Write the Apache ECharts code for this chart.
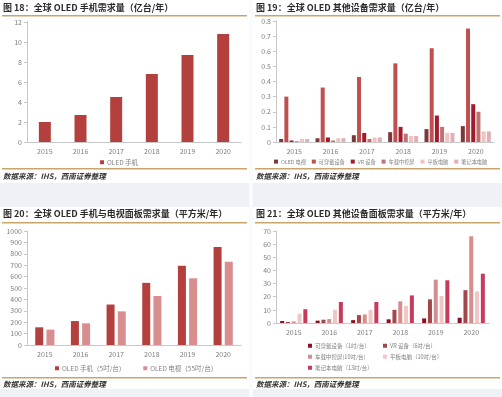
<!DOCTYPE html>
<html>
<head>
<meta charset="utf-8">
<script src="https://cdn.jsdelivr.net/npm/echarts@6/dist/echarts.min.js"></script>
<style>
  html, body { margin: 0; padding: 0; background: #ffffff; }
  #main { width: 502px; height: 397px; }
</style>
</head>
<body>
<div id="main"></div>
<script>
// 数据
var years = ['2015', '2016', '2017', '2018', '2019', '2020'];

// 图18 OLED 手机需求量（亿台/年）
var phoneUnits = [2.0, 2.7, 4.5, 6.8, 8.7, 10.8];

// 图19 其他设备需求量（亿台/年）
var tvUnits = [0.02, 0.025, 0.045, 0.065, 0.085, 0.105];
var wearUnits = [0.30, 0.36, 0.43, 0.52, 0.62, 0.75];
var vrUnits = [0.01, 0.03, 0.06, 0.10, 0.175, 0.25];
var carUnits = [0.005, 0.01, 0.02, 0.055, 0.10, 0.20];
var padUnits = [0.02, 0.025, 0.03, 0.04, 0.06, 0.07];
var nbUnits = [0.02, 0.025, 0.03, 0.04, 0.06, 0.07];

// 图20 手机与电视面板需求量（平方米/年）
var phoneArea = [155, 210, 355, 545, 695, 860];
var tvArea = [135, 190, 295, 430, 585, 730];

// 图21 其他设备面板需求量（平方米/年）
var wearArea = [1.5, 1.8, 2.2, 2.8, 3.5, 4.0];
var vrArea = [0.8, 2.5, 6.0, 10.0, 18.0, 25.0];
var carArea = [1.2, 3.0, 6.5, 16.5, 33.0, 66.0];
var padArea = [7.0, 10.0, 10.0, 13.0, 20.5, 24.0];
var nbArea = [10.5, 16.0, 16.0, 21.0, 32.5, 37.5];

var titles = [
  '图 18：全球 OLED 手机需求量（亿台/年）',
  '图 19：全球 OLED 其他设备需求量（亿台/年）',
  '图 20：全球 OLED 手机与电视面板需求量（平方米/年）',
  '图 21：全球 OLED 其他设备面板需求量（平方米/年）'
];
var sourceText = '数据来源：IHS，西南证券整理';

var FONT = '"Noto Sans CJK SC", "Noto Sans", sans-serif';
var GOLD = '#c9a56c';
var PAGE = '#eef1f5';

function xAx(gi) {
  return {
    type: 'category',
    gridIndex: gi,
    data: years,
    axisLine: { lineStyle: { color: '#c8c8c8' } },
    axisTick: { lineStyle: { color: '#c8c8c8' } },
    axisLabel: { color: '#7f7f7f', fontSize: 7, margin: 6, fontFamily: FONT }
  };
}
function yAx(gi, max, interval) {
  return {
    type: 'value',
    gridIndex: gi,
    min: 0,
    max: max,
    interval: interval,
    splitLine: { show: false },
    axisLine: { show: true, lineStyle: { color: '#c8c8c8' } },
    axisTick: { show: true, length: 3, lineStyle: { color: '#c8c8c8' } },
    axisLabel: {
      color: '#7f7f7f', fontSize: 7, margin: 5, fontFamily: FONT,
      formatter: function (v) { return String(v); }
    }
  };
}
function bar(name, data, xi, color, width, gap) {
  return {
    name: name,
    type: 'bar',
    xAxisIndex: xi,
    yAxisIndex: xi,
    data: data,
    barWidth: width,
    barGap: gap,
    itemStyle: { color: color },
    emphasis: { disabled: true }
  };
}
function legendStyle(extra, size) {
  var base = {
    icon: 'rect',
    itemWidth: 4,
    itemHeight: 4,
    itemGap: 10,
    padding: 0,
    textStyle: { color: '#808080', fontSize: size || 6.5, fontFamily: FONT, padding: [0, 0, 0, -2] },
    selectedMode: false
  };
  return Object.assign(base, extra);
}

var c19 = ['#7a3838', '#c0504f', '#a31a2c', '#bf7272', '#f1c2c2', '#e2afb6'];
var n19 = ['OLED 电视', '可穿戴设备', 'VR 设备', '车载中控屏', '平板电脑', '笔记本电脑'];
var c21 = ['#8c1024', '#a2474a', '#d68d8d', '#f1c6c6', '#c63a5a'];
var n21 = ['可穿戴设备（1吋/台）', 'VR 设备（6吋/台）', '车载中控屏(10吋/台)', '平板电脑（10吋/台）', '笔记本电脑（13吋/台）'];

var myChart = echarts.init(document.getElementById('main'), null, { renderer: 'canvas' });

var srcFont = 'italic bold 7.5px ' + FONT;
var ttlFont = 'bold 9px ' + FONT;

var option = {
  backgroundColor: '#ffffff',
  animation: false,
  textStyle: { fontFamily: FONT },
  graphic: [
    // 灰色背景条
    { type: 'rect', shape: { x: 0, y: 183, width: 502, height: 24 }, style: { fill: PAGE }, silent: true },
    { type: 'rect', shape: { x: 0, y: 389, width: 502, height: 8 }, style: { fill: PAGE }, silent: true },
    { type: 'rect', shape: { x: 249, y: 0, width: 4, height: 397 }, style: { fill: '#fafbfc' }, silent: true },
    // 金色分隔线
    { type: 'rect', shape: { x: 2, y: 15, width: 245, height: 1.5 }, style: { fill: GOLD }, silent: true },
    { type: 'rect', shape: { x: 255, y: 15, width: 245, height: 1.5 }, style: { fill: GOLD }, silent: true },
    { type: 'rect', shape: { x: 2, y: 168, width: 245, height: 1.5 }, style: { fill: GOLD }, silent: true },
    { type: 'rect', shape: { x: 255, y: 168, width: 245, height: 1.5 }, style: { fill: GOLD }, silent: true },
    { type: 'rect', shape: { x: 2, y: 222, width: 245, height: 1.5 }, style: { fill: GOLD }, silent: true },
    { type: 'rect', shape: { x: 255, y: 222, width: 245, height: 1.5 }, style: { fill: GOLD }, silent: true },
    { type: 'rect', shape: { x: 2, y: 377, width: 245, height: 1.5 }, style: { fill: GOLD }, silent: true },
    { type: 'rect', shape: { x: 255, y: 377, width: 245, height: 1.5 }, style: { fill: GOLD }, silent: true },
    // 标题
    { type: 'text', x: 3, y: 3, style: { text: titles[0], fill: '#2b2b2b', font: ttlFont } },
    { type: 'text', x: 256, y: 3, style: { text: titles[1], fill: '#2b2b2b', font: ttlFont } },
    { type: 'text', x: 3, y: 209, style: { text: titles[2], fill: '#2b2b2b', font: ttlFont } },
    { type: 'text', x: 256, y: 209, style: { text: titles[3], fill: '#2b2b2b', font: ttlFont } },
    // 数据来源
    { type: 'text', x: 3, y: 172, style: { text: sourceText, fill: '#333', font: srcFont } },
    { type: 'text', x: 256, y: 172, style: { text: sourceText, fill: '#333', font: srcFont } },
    { type: 'text', x: 3, y: 380, style: { text: sourceText, fill: '#333', font: srcFont } },
    { type: 'text', x: 256, y: 380, style: { text: sourceText, fill: '#333', font: srcFont } }
  ],
  legend: [
    legendStyle({ data: ['OLED 手机'], left: 100, top: 159 }),
    legendStyle({ data: n19, left: 274, top: 159, itemGap: 6, width: 228 }, 5.2),
    legendStyle({ data: ['OLED 手机（5吋/台）', 'OLED 电视（55吋/台）'], left: 55, top: 365, itemGap: 18 }),
    legendStyle({ data: [n21[0], n21[2], n21[4]], left: 308, top: 343, orient: 'vertical', itemGap: 5.5 }, 5.5),
    legendStyle({ data: [n21[1], n21[3]], left: 383, top: 343, orient: 'vertical', itemGap: 5.5 }, 5.5)
  ],
  grid: [
    { left: 27, right: 261, top: 22, bottom: 255 },
    { left: 276, right: 8, top: 21, bottom: 255 },
    { left: 27, right: 261, top: 231, bottom: 52 },
    { left: 276, right: 13, top: 231, bottom: 74 }
  ],
  xAxis: [xAx(0), xAx(1), xAx(2), xAx(3)],
  yAxis: [yAx(0, 12, 2), yAx(1, 0.8, 0.1), yAx(2, 1000, 100), yAx(3, 70, 10)],
  series: [
    bar('OLED 手机', phoneUnits, 0, '#b4403e', 12, '0%'),

    bar(n19[0], tvUnits, 1, c19[0], 4, '30%'),
    bar(n19[1], wearUnits, 1, c19[1], 4, '30%'),
    bar(n19[2], vrUnits, 1, c19[2], 4, '30%'),
    bar(n19[3], carUnits, 1, c19[3], 4, '30%'),
    bar(n19[4], padUnits, 1, c19[4], 4, '30%'),
    bar(n19[5], nbUnits, 1, c19[5], 4, '30%'),

    bar('OLED 手机（5吋/台）', phoneArea, 2, '#b4403e', 8, '40%'),
    bar('OLED 电视（55吋/台）', tvArea, 2, '#d88e8e', 8, '40%'),

    bar(n21[0], wearArea, 3, c21[0], 4, '45%'),
    bar(n21[1], vrArea, 3, c21[1], 4, '45%'),
    bar(n21[2], carArea, 3, c21[2], 4, '45%'),
    bar(n21[3], padArea, 3, c21[3], 4, '45%'),
    bar(n21[4], nbArea, 3, c21[4], 4, '45%')
  ]
};

myChart.setOption(option);
</script>
</body>
</html>
